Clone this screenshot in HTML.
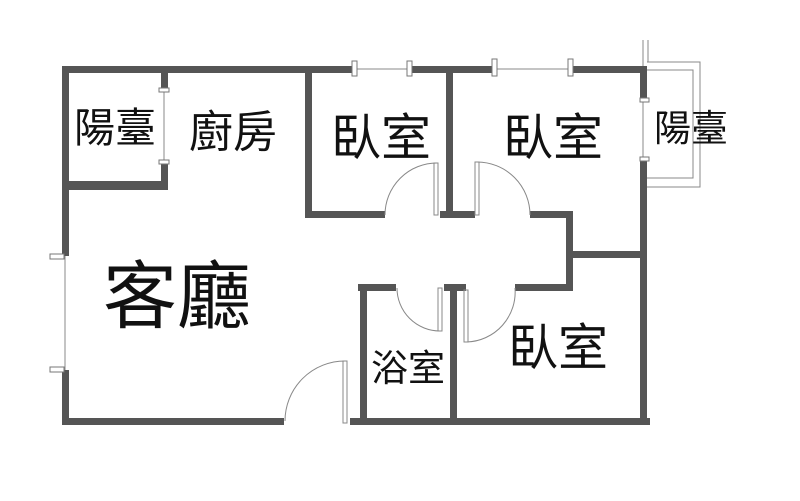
<!DOCTYPE html>
<html><head><meta charset="utf-8"><style>
html,body{margin:0;padding:0;background:#fff}
svg{display:block}
text{font-family:"Liberation Sans","Noto Sans CJK TC",sans-serif;fill:#111}
</style></head><body>
<svg width="800" height="501" viewBox="0 0 800 501" xmlns="http://www.w3.org/2000/svg">
<g fill="#555">
<rect x="62" y="66" width="293" height="7"/>
<rect x="410" y="66" width="85" height="7"/>
<rect x="570" y="66" width="77" height="7"/>
<rect x="62" y="66" width="7" height="190"/>
<rect x="62" y="370" width="7" height="55"/>
<rect x="62" y="418" width="222" height="7"/>
<rect x="350" y="418" width="300" height="7"/>
<rect x="161" y="66" width="7" height="22"/>
<rect x="161" y="162" width="7" height="28"/>
<rect x="62" y="181" width="106" height="9"/>
<rect x="305" y="66" width="7" height="152"/>
<rect x="305" y="211" width="80" height="7"/>
<rect x="446" y="66" width="7" height="152"/>
<rect x="440" y="211" width="35" height="7"/>
<rect x="530" y="211" width="43" height="7"/>
<rect x="566" y="211" width="7" height="80"/>
<rect x="566" y="251" width="81" height="7"/>
<rect x="640" y="66" width="7" height="34"/>
<rect x="640" y="160" width="7" height="265"/>
<rect x="358" y="284" width="38" height="7"/>
<rect x="444" y="284" width="22" height="7"/>
<rect x="515" y="284" width="58" height="7"/>
<rect x="360" y="284" width="7" height="140"/>
<rect x="450" y="284" width="7" height="140"/>
</g>
<g fill="none" stroke="#888" stroke-width="1">
<line x1="355" y1="69" x2="410" y2="69"/>
<line x1="495" y1="69" x2="570" y2="69"/>
<line x1="65" y1="256" x2="65" y2="370"/>
<line x1="164" y1="88" x2="164" y2="162"/>
<line x1="643" y1="100" x2="643" y2="160"/>
<polyline points="647,62 700,62 700,187 647,187"/>
<polyline points="647,70 693,70 693,178 647,178"/>
<line x1="643" y1="40" x2="643" y2="66"/>
<line x1="648" y1="40" x2="648" y2="62"/>
<path d="M385,215 A52,52 0 0 1 437,163"/>
<rect x="434" y="163" width="4" height="52"/>
<path d="M477,162 A53,53 0 0 1 530,215"/>
<rect x="475" y="162" width="4" height="53"/>
<path d="M397,288 A43,43 0 0 0 440,331"/>
<rect x="438" y="288" width="4" height="43"/>
<path d="M467,342 A50,50 0 0 0 515,288"/>
<rect x="464" y="290" width="4" height="52"/>
<path d="M285,421 A60,60 0 0 1 345,361"/>
<rect x="343" y="361" width="4" height="62"/>
</g>
<g fill="#fff" stroke="#777" stroke-width="1">
<rect x="352" y="61" width="5" height="15"/><rect x="407" y="61" width="5" height="15"/>
<rect x="492" y="59" width="5" height="17"/><rect x="568" y="59" width="5" height="17"/>
<rect x="50" y="254" width="14" height="5"/><rect x="50" y="367" width="14" height="5"/>
<rect x="159" y="88" width="10" height="4"/><rect x="159" y="160" width="10" height="4"/>
<rect x="640" y="98" width="9" height="4"/><rect x="640" y="157" width="9" height="4"/>
</g>
<text x="74" y="142" font-size="41">陽臺</text>
<text x="189" y="147" font-size="44">廚房</text>
<text x="331" y="155" font-size="50">臥室</text>
<text x="503" y="155" font-size="50">臥室</text>
<text x="654" y="141" font-size="37">陽臺</text>
<text x="103" y="322" font-size="74">客廳</text>
<text x="371" y="381" font-size="37">浴室</text>
<text x="508" y="365" font-size="50">臥室</text>
</svg>
</body></html>
